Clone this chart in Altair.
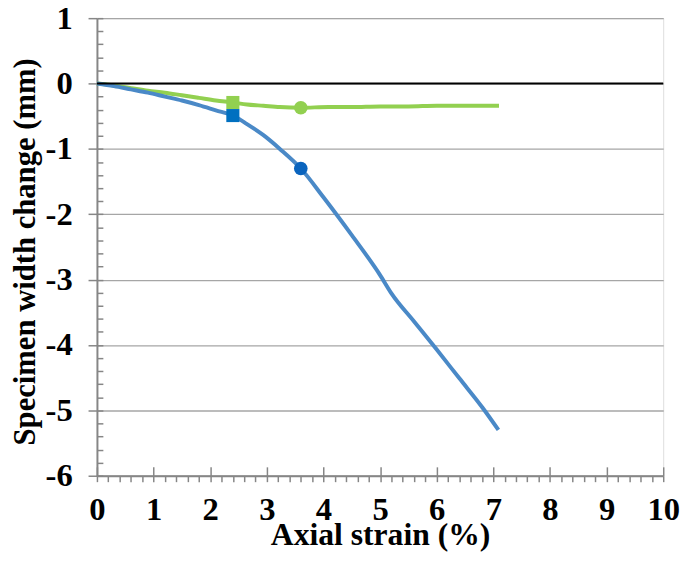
import altair as alt
import pandas as pd

# ---- data ----
blue_x = [0, 0.3, 0.6, 0.9, 1.2, 1.5, 1.8, 2.1, 2.4, 2.65, 2.94, 3.23, 3.6,
          4.0, 4.5, 5.0, 5.2, 5.6, 6.0, 6.4, 6.81, 7.09]
blue_y = [0, -0.04, -0.09, -0.14, -0.2, -0.26, -0.33, -0.41, -0.49, -0.62,
          -0.79, -1.0, -1.3, -1.74, -2.32, -2.93, -3.21, -3.64, -4.07,
          -4.51, -4.96, -5.3]
green_x = [0, 0.3, 0.6, 0.9, 1.2, 1.5, 1.8, 2.1, 2.4, 2.65, 2.94, 3.23, 3.6,
           4.09, 4.5, 5.0, 5.5, 6.0, 6.5, 7.1]
green_y = [0, -0.03, -0.07, -0.11, -0.14, -0.18, -0.22, -0.26, -0.29, -0.32,
           -0.34, -0.36, -0.37, -0.36, -0.36, -0.35, -0.35, -0.34, -0.34, -0.34]
square_x = [2.4, 2.4]
square_y = [-0.49, -0.29]
square_series = ["blue", "green"]
circle_x = [3.6, 3.6]
circle_y = [-1.3, -0.37]
circle_series = ["blue", "green"]
zero_line = [0]

x_major = list(range(0, 11))
x_minor = [i / 5 for i in range(0, 51)]
y_major = list(range(-6, 2))
y_minor = [i / 5 for i in range(-30, 6)]

W, H = 573, 463
FONT = "Liberation Serif"
AX = "#868686"

blue_df = pd.DataFrame({"x": blue_x, "y": blue_y})
green_df = pd.DataFrame({"x": green_x, "y": green_y})
sq_df = pd.DataFrame({"x": square_x, "y": square_y, "s": square_series})
ci_df = pd.DataFrame({"x": circle_x, "y": circle_y, "s": circle_series})
zero_df = pd.DataFrame({"v": zero_line})

xs = alt.Scale(domain=[0, 10], nice=False, zero=False)
ys = alt.Scale(domain=[-6, 1], nice=False, zero=False)

x_main_axis = alt.Axis(
    orient="bottom", values=x_minor, tickSize=6, tickColor=AX, tickWidth=1.5,
    domainColor=AX, domainWidth=2, grid=False,
    labelExpr="abs(datum.value - round(datum.value)) < 0.001 ? '' + round(datum.value) : ''",
    labelOverlap=False, labelFlush=False, labelPadding=12,
    labelFont=FONT, labelFontSize=33, labelFontWeight="bold", labelColor="black",
    title="Axial strain (%)", titleFont=FONT, titleFontSize=32,
    titleFontWeight="bold", titleColor="black", titleBaseline="alphabetic",
    titleY=70,
)
y_main_axis = alt.Axis(
    orient="left", values=y_major, tickSize=9, tickColor=AX, tickWidth=1.5,
    domainColor=AX, domainWidth=2, grid=True, gridColor="#a6a6a6", gridWidth=1.3,
    labelExpr="'' + datum.value", labelOverlap=False, labelFlush=False,
    labelPadding=16, labelFont=FONT, labelFontSize=33, labelFontWeight="bold",
    labelColor="black",
    title="Specimen width change (mm)", titleFont=FONT, titleFontSize=31,
    titleFontWeight="bold", titleColor="black", titleBaseline="alphabetic",
    titleX=-63, titleY=236,
)
x_inner_axis = alt.Axis(
    orient="top", offset=-H, values=x_major, tickSize=9, tickColor=AX,
    tickWidth=1.5, labels=False, domain=False, grid=False, title=None,
)
y_inner_axis = alt.Axis(
    orient="right", offset=-W, values=y_minor, tickSize=6, tickColor=AX,
    tickWidth=1.5, labels=False, domain=False, grid=False, title=None,
)

zero_rule = alt.Chart(zero_df).mark_rule(color="black", strokeWidth=2).encode(
    y=alt.Y("v:Q", scale=ys, axis=None)
)
green_line = alt.Chart(green_df).mark_line(
    color="#92D050", strokeWidth=4, interpolate="monotone"
).encode(
    x=alt.X("x:Q", scale=xs, axis=x_main_axis),
    y=alt.Y("y:Q", scale=ys, axis=y_main_axis),
    order="x:Q",
)
blue_line = alt.Chart(blue_df).mark_line(
    color="#4A89C7", strokeWidth=4, interpolate="monotone"
).encode(
    x=alt.X("x:Q", scale=xs, axis=x_inner_axis),
    y=alt.Y("y:Q", scale=ys, axis=y_inner_axis),
    order="x:Q",
)
squares = alt.Chart(sq_df).mark_point(shape="square", filled=True, size=175, opacity=1).encode(
    x=alt.X("x:Q", scale=xs, axis=None),
    y=alt.Y("y:Q", scale=ys, axis=None),
    color=alt.Color("s:N", scale=alt.Scale(domain=["blue", "green"], range=["#0070C0", "#92D050"]), legend=None),
)
circles = alt.Chart(ci_df).mark_point(shape="circle", filled=True, size=190, opacity=1).encode(
    x=alt.X("x:Q", scale=xs, axis=None),
    y=alt.Y("y:Q", scale=ys, axis=None),
    color=alt.Color("s:N", scale=alt.Scale(domain=["blue", "green"], range=["#0A64BE", "#92D050"]), legend=None),
)

chart = (
    alt.layer(green_line, blue_line, zero_rule, squares, circles)
    .resolve_axis(x="independent", y="independent")
    .resolve_scale(color="independent")
    .properties(
        width=W, height=H,
        autosize=alt.AutoSizeParams(type="none"),
        padding={"left": 90, "top": 7, "right": 19, "bottom": 84},
    )
    .configure_view(stroke="#8c8c8c", strokeWidth=1.5)
    .configure(background="white")
)

chart.save("out.html", embed_options={"renderer": "svg", "actions": False})
